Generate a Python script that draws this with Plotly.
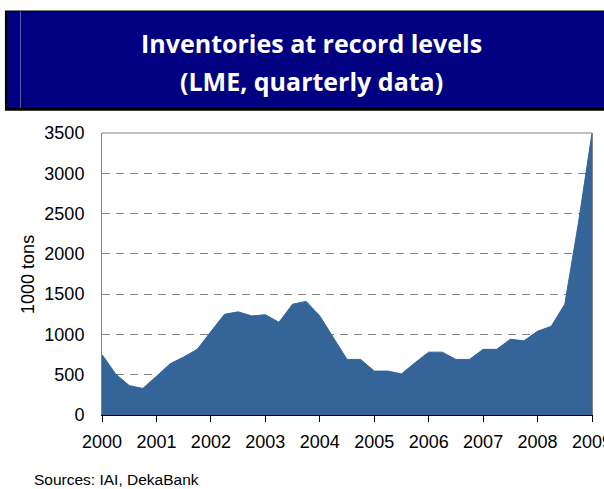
import plotly.graph_objects as go

# ---- data (quarterly LME inventories, 1000 tons) ----
quarters = [2000 + 0.25 * i for i in range(37)]
inventories = [
    750, 510, 365, 330,
    480, 635, 720, 815,
    1035, 1250, 1280, 1230,
    1245, 1150, 1375, 1410,
    1230, 965, 690, 690,
    545, 545, 510, 650,
    780, 780, 690, 690,
    815, 815, 940, 920,
    1040, 1100, 1375, 2380,
    3500,
]
year_ticks = list(range(2000, 2010))
y_ticks = list(range(0, 3501, 500))

W, H = 604, 489
L, R, T, B = 102, 12.4, 132.7, 74
PW, PH = W - L - R, H - T - B


def px_x(p):
    return (p - L) / PW


def px_y(p):
    return 1 + (T - p) / PH


fig = go.Figure()
fig.add_trace(go.Scatter(
    x=quarters, y=inventories, mode="lines", fill="tozeroy",
    line=dict(color="#356498", width=1), fillcolor="#356498",
    hoverinfo="x+y", showlegend=False,
))

fig.update_layout(
    width=W, height=H,
    margin=dict(l=L, r=R, t=T, b=B, autoexpand=False),
    paper_bgcolor="white", plot_bgcolor="white",
    font=dict(family="Liberation Sans, Arial, sans-serif", size=18, color="black"),
    xaxis=dict(
        range=[2000, 2009], tickvals=year_ticks, ticktext=[str(y) for y in year_ticks],
        showgrid=False, zeroline=False, showline=True, linecolor="black", linewidth=1,
        ticks="outside", ticklen=6, tickcolor="black", tickwidth=1,
        ticklabelstandoff=4, ticklabeloverflow="allow", tickfont=dict(size=18),
    ),
    yaxis=dict(
        range=[0, 3500], tickvals=y_ticks, showgrid=True, gridcolor="#828282",
        griddash="8px,6px", gridwidth=1, zeroline=False,
        showline=True, linecolor="#828282", linewidth=1, mirror=True,
        ticks="", ticklabelstandoff=13, tickfont=dict(size=18),
    ),
    shapes=[
        # top border of the plot box
        dict(type="line", xref="paper", yref="paper", x0=0, x1=1, y0=1, y1=1,
             line=dict(color="#828282", width=1)),
        # title banner (shadow + navy box)
        dict(type="rect", xref="paper", yref="paper", layer="above",
             x0=px_x(5), x1=px_x(650), y0=px_y(110.5), y1=px_y(10),
             fillcolor="black", line=dict(width=0)),
        dict(type="rect", xref="paper", yref="paper", layer="above",
             x0=px_x(7), x1=px_x(650), y0=px_y(107.5), y1=px_y(11),
             fillcolor="#000080", line=dict(width=0)),
        dict(type="line", xref="paper", yref="paper", layer="above",
             x0=px_x(20.5), x1=px_x(20.5), y0=px_y(107.5), y1=px_y(11),
             line=dict(color="#5c5ca8", width=1)),
    ],
    annotations=[
        dict(text="<b>Inventories at record levels</b>", xref="paper", yref="paper",
             x=px_x(311), y=px_y(43), xanchor="center", yanchor="middle", showarrow=False,
             font=dict(family="Open Sans, DejaVu Sans, sans-serif", size=25, color="white")),
        dict(text="<b>(LME, quarterly data)</b>", xref="paper", yref="paper",
             x=px_x(311), y=px_y(81), xanchor="center", yanchor="middle", showarrow=False,
             font=dict(family="Open Sans, DejaVu Sans, sans-serif", size=25, color="white")),
        dict(text="1000 tons", xref="paper", yref="paper", textangle=-90,
             x=px_x(28), y=0.5, xanchor="center", yanchor="middle", showarrow=False,
             font=dict(size=18)),
        dict(text="Sources: IAI, DekaBank", xref="paper", yref="paper",
             x=px_x(32), y=px_y(480), xanchor="left", yanchor="middle", showarrow=False,
             font=dict(size=15.5)),
    ],
)

fig.write_html("out.html")
